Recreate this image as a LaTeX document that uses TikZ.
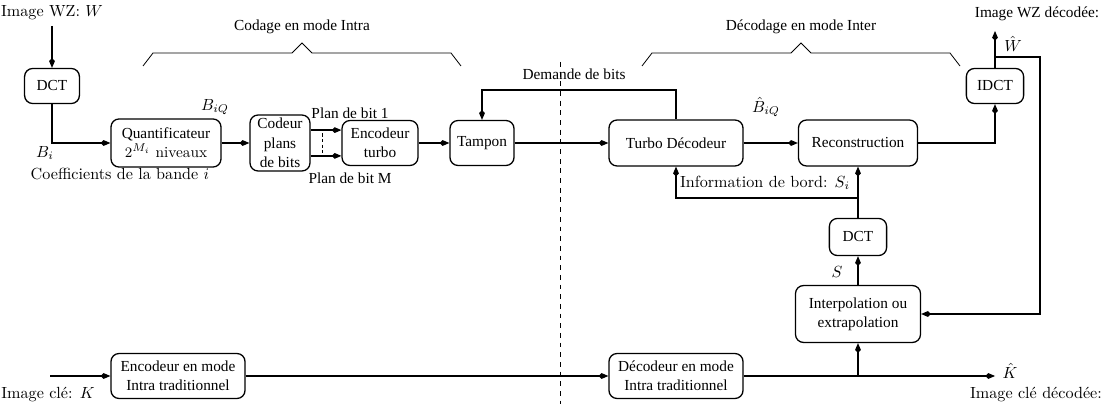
\documentclass[tikz,border=0pt]{standalone}
\usepackage{fontspec}
\newfontfamily\timesfont{Liberation Serif}
\usepackage{tikz}
\usetikzlibrary{arrows.meta, positioning, calc}
\tikzset{
	blockbox/.style={draw, rounded corners=5pt, line width=0.8pt, inner sep=0pt,
		align=center, font=\timesfont\fontsize{9.5}{12}\selectfont}
}
\tikzset{
	flow/.style={line width=0.8pt, -{Kite[length=6pt,width=3.6pt,inset=1.8pt]}}
}
\tikzset{
	timestext/.style={font=\timesfont\fontsize{9.5}{12}\selectfont}
}
\tikzset{
	tightlabel/.style={inner sep=1pt}
}

\begin{document}
\begin{tikzpicture}[x=0.62pt, y=-0.62pt]
      \useasboundingbox (0,0) rectangle (1105,404);

      % encoder side (Wyner-Ziv frames)
      \node (lblW) at (52,13) {Image WZ: $W$};
      \node[blockbox, minimum width=34pt, minimum height=21.7pt] (dctW) at (52,86) {DCT};
      \node[blockbox, minimum width=68.2pt, minimum height=29.8pt] (quant) at (166,143)
        {Quantificateur\\{\normalfont $2^{M_i}$ niveaux}};
      \node[blockbox, minimum width=37.2pt, minimum height=34.7pt] (codeur) at (280,143)
        {Codeur\\plans\\de bits};
      \node[blockbox, minimum width=47.1pt, minimum height=27.9pt] (encT) at (380,143)
        {Encodeur\\turbo};
      \node[blockbox, minimum width=39.7pt, minimum height=27.9pt] (tampon) at (482,143) {Tampon};

      \node (lblBi) at (45,153) {$B_i$};
      \node (lblcoef) at (120,174) {Coefficients de la bande $i$};
      \node (lblBiQ) at (215,107) {$B_{iQ}$};
      \node[timestext] (lblplan1) at (350,113) {Plan de bit 1};
      \node[timestext] (lblplanM) at (350,178) {Plan de bit M};

      % decoder side
      \node[blockbox, minimum width=83.1pt, minimum height=28.5pt] (turboD) at (676,143)
        {Turbo D\'ecodeur};
      \node[blockbox, minimum width=73.8pt, minimum height=28.5pt] (recon) at (858,143)
        {Reconstruction};
      \node[blockbox, minimum width=35.5pt, minimum height=21.7pt] (idct) at (995,86) {IDCT};
      \node[blockbox, minimum width=35.5pt, minimum height=23pt] (dctS) at (858,237) {DCT};
      \node[blockbox, minimum width=77.5pt, minimum height=35.3pt] (interp) at (858,314)
        {Interpolation ou\\extrapolation};

      \node[timestext] (lbldemande) at (574,74) {Demande de bits};
      \node[tightlabel] (lblBhat) at (766,107) {$\hat{B}_{iQ}$};
      \node (lblinfo) at (765,183) {Information de bord: $S_i$};
      \node (lblS) at (837,272) {$S$};
      \node[timestext, tightlabel] (lblWdec) at (1037,14) {Image WZ d\'ecod\'ee:};
      \node[tightlabel] (lblWhat) at (1013,44) {$\hat{W}$};

      % key frames
      \node[blockbox, minimum width=83.1pt, minimum height=27.9pt] (encI) at (178,376)
        {Encodeur en mode\\Intra traditionnel};
      \node[blockbox, minimum width=83.1pt, minimum height=27.9pt] (decI) at (676,376)
        {D\'ecodeur en mode\\Intra traditionnel};
      \node[tightlabel] (lblK) at (48,395) {Image cl\'e: $K$};
      \node[tightlabel] (lblKhat) at (1010,371) {$\hat{K}$};
      \node[tightlabel] (lblKdec) at (1036,395) {Image cl\'e d\'ecod\'ee:};

      \coordinate (reqtop) at (0,90);
      \coordinate (sijoin) at (0,198);
      \coordinate (wtap) at (995,57);
      \coordinate (wout) at (995,31);
      \coordinate (fbright) at (1040,0);
      \coordinate (kin) at (50,376);
      \coordinate (kout) at (995,376);

      % connectors
      \draw[flow] (lblW.south -| dctW) -- (dctW);
      \draw[flow] (dctW) |- (quant);
      \draw[flow] (quant) -- (codeur);
      \draw[flow] ([yshift=8pt]codeur.east) -- ([yshift=8pt]codeur.east -| encT.west);
      \draw[flow] ([yshift=-8pt]codeur.east) -- ([yshift=-8pt]codeur.east -| encT.west);
      \draw[line width=0.6pt, dash pattern=on 2pt off 1.5pt]
        ([xshift=7.5pt,yshift=6pt]codeur.east) -- ([xshift=7.5pt,yshift=-6pt]codeur.east);
      \draw[flow] (encT) -- (tampon);
      \draw[flow] (tampon) -- (turboD);
      \draw[flow] (turboD.north) -- (turboD.north |- reqtop) -| (tampon.north);
      \draw[flow] (turboD) -- (recon);
      \draw[flow] (recon) -| (idct);
      \draw[flow] (idct) -- (wout);
      \draw[flow] (wtap) -| (fbright |- interp) -- (interp);
      \draw[flow] (dctS) -- (recon);
      \draw[flow] (dctS |- sijoin) -| (turboD);
      \draw[flow] (interp) -- (dctS);
      \draw[flow] (kin) -- (encI);
      \draw[flow] (encI) -- (decI);
      \draw[flow] (decI) -- (kout);
      \draw[flow] (interp |- kout) -- (interp);

      % braces over both halves
      \foreach \bx in {143,642} {
        \draw[line width=0.5pt] (\bx,66) -- ++(10,-13) -- ++(139,0) -- ++(10,-10)
          -- ++(10,10) -- ++(139,0) -- ++(10,13);
      }
      \node[timestext] (lblcodage) at (302,27) {Codage en mode Intra};
      \node[timestext] (lbldecodage) at (801,27) {D\'ecodage en mode Inter};

      % encoder / decoder split
      \draw[line width=0.6pt, dashed] (560,62) -- (560,404);
\end{tikzpicture}
\end{document}
